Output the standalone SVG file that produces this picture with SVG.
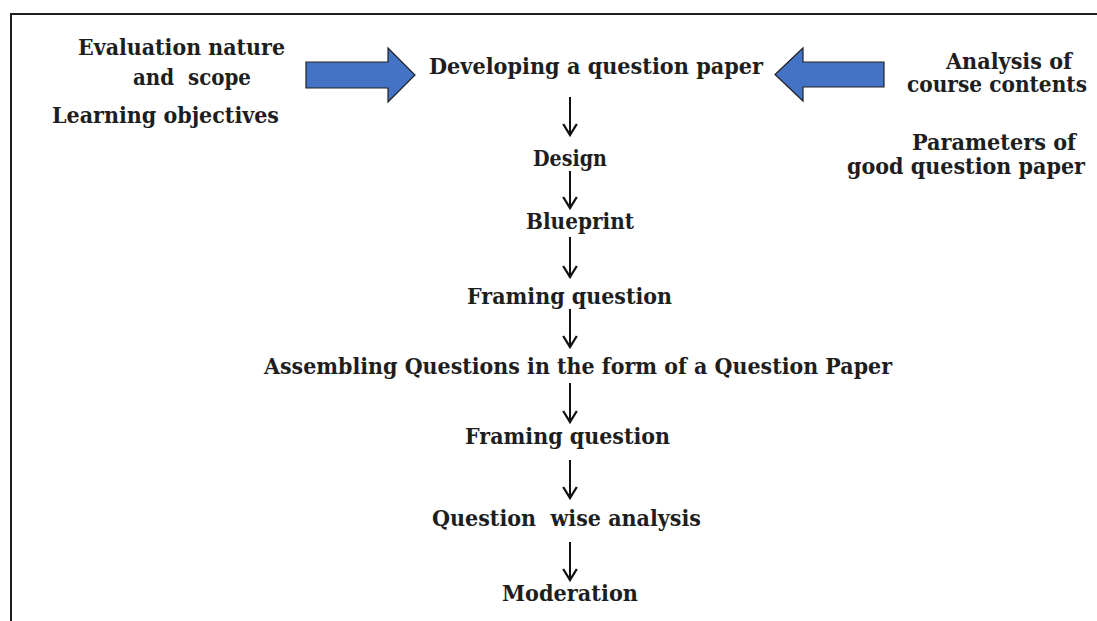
<svg xmlns="http://www.w3.org/2000/svg" width="1097" height="621" viewBox="0 0 1097 621">
<style>
  .t { font-family: "DejaVu Serif", "Liberation Serif", serif; font-weight: bold; font-size: 21.5px; fill: #1e1e1e; text-anchor: middle; }
  .frame { stroke: #1e1e1e; stroke-width: 2; fill: none; }
  .blk { fill: #4472C4; stroke: #222; stroke-width: 1.2; stroke-linejoin: miter; }
  .conn { stroke: #111; stroke-width: 2; fill: none; }
</style>
<defs>
  <marker id="ah" viewBox="0 0 16 16" refX="14.5" refY="8" markerWidth="16" markerHeight="16" markerUnits="userSpaceOnUse" orient="auto">
    <path d="M3.5 1.2 L14.5 8 L3.5 14.8" fill="none" stroke="#111" stroke-width="2.3"/>
  </marker>
</defs>
<rect width="1097" height="621" fill="#ffffff"/>
<g id="frame">
  <path class="frame" d="M11 621 L11 14 L1097 14"/>
</g>

<g id="connectors">
  <path class="blk" d="M306 62 L388 62 L388 48 L415 75 L388 102 L388 88 L306 88 Z"/>
  <path class="blk" d="M884 62 L803 62 L803 48 L775 74.5 L803 101 L803 87 L884 87 Z"/>
  <g>
    <line class="conn" x1="570" y1="97" x2="570" y2="135" marker-end="url(#ah)"/>
    <line class="conn" x1="570" y1="171" x2="570" y2="208" marker-end="url(#ah)"/>
    <line class="conn" x1="570" y1="237" x2="570" y2="277" marker-end="url(#ah)"/>
    <line class="conn" x1="570" y1="309" x2="570" y2="347" marker-end="url(#ah)"/>
    <line class="conn" x1="570" y1="383" x2="570" y2="422" marker-end="url(#ah)"/>
    <line class="conn" x1="570" y1="460" x2="570" y2="498" marker-end="url(#ah)"/>
    <line class="conn" x1="570" y1="542" x2="570" y2="580" marker-end="url(#ah)"/>
  </g>
</g>

<g id="left-inputs">
  <text class="t" x="181.5" y="55" textLength="207" lengthAdjust="spacingAndGlyphs">Evaluation nature</text>
  <text class="t" x="192" y="85" textLength="118" lengthAdjust="spacingAndGlyphs" xml:space="preserve">and  scope</text>
  <text class="t" x="165.5" y="123" textLength="227" lengthAdjust="spacingAndGlyphs">Learning objectives</text>
</g>
<g id="right-inputs">
  <text class="t" x="1009" y="69" textLength="126" lengthAdjust="spacingAndGlyphs">Analysis of</text>
  <text class="t" x="997" y="92" textLength="180" lengthAdjust="spacingAndGlyphs">course contents</text>
  <text class="t" x="994" y="150" textLength="164" lengthAdjust="spacingAndGlyphs">Parameters of</text>
  <text class="t" x="966" y="174" textLength="238" lengthAdjust="spacingAndGlyphs">good question paper</text>
</g>
<g id="n-developing">
  <text class="t" x="596" y="74" textLength="334" lengthAdjust="spacingAndGlyphs">Developing a question paper</text>
</g>
<g id="n-design">
  <text class="t" x="570" y="166" textLength="74" lengthAdjust="spacingAndGlyphs">Design</text>
</g>
<g id="n-blueprint">
  <text class="t" x="580" y="229" textLength="108" lengthAdjust="spacingAndGlyphs">Blueprint</text>
</g>
<g id="n-framing1">
  <text class="t" x="569.5" y="304" textLength="205" lengthAdjust="spacingAndGlyphs">Framing question</text>
</g>
<g id="n-assembling">
  <text class="t" x="578" y="374" textLength="628" lengthAdjust="spacingAndGlyphs">Assembling Questions in the form of a Question Paper</text>
</g>
<g id="n-framing2">
  <text class="t" x="567.5" y="444" textLength="205" lengthAdjust="spacingAndGlyphs">Framing question</text>
</g>
<g id="n-analysis">
  <text class="t" x="566.5" y="526" textLength="269" lengthAdjust="spacingAndGlyphs" xml:space="preserve">Question  wise analysis</text>
</g>
<g id="n-moderation">
  <text class="t" x="570" y="601" textLength="136" lengthAdjust="spacingAndGlyphs">Moderation</text>
</g>
</svg>
